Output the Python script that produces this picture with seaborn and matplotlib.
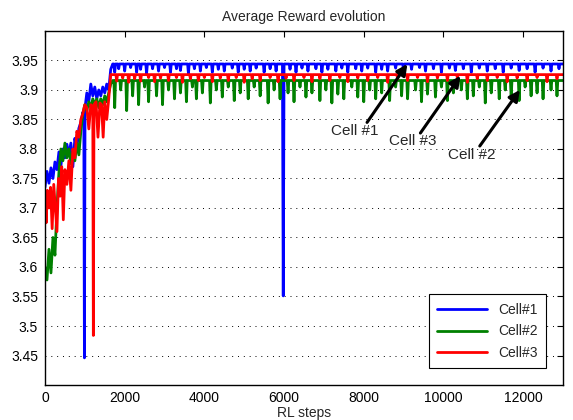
import numpy as np
import pandas as pd
import matplotlib
matplotlib.use("Agg")
import matplotlib.pyplot as plt
import seaborn as sns

# tramo inicial (0-1650 pasos)
blue_steps0 = [0, 50, 100, 150, 200, 250, 300, 350, 400, 450, 500, 550, 600, 650, 700, 750,
               800, 850, 900, 950, 975, 990, 1005, 1050, 1100, 1150, 1200, 1250, 1300, 1350,
               1400, 1450, 1500, 1550, 1600, 1650]
blue_vals0 = [3.735, 3.762, 3.742, 3.768, 3.75, 3.778, 3.765, 3.795, 3.772, 3.80, 3.785, 3.808,
              3.79, 3.81, 3.77, 3.818, 3.80, 3.835, 3.845, 3.862, 3.85, 3.446, 3.87, 3.895,
              3.88, 3.91, 3.89, 3.905, 3.885, 3.90, 3.89, 3.905, 3.895, 3.91, 3.90, 3.935]

green_steps0 = [0, 50, 100, 150, 200, 250, 300, 350, 400, 450, 500, 550, 600, 650, 700, 750,
                800, 850, 900, 950, 1000, 1050, 1100, 1150, 1200, 1250, 1300, 1350, 1400,
                1450, 1500, 1550, 1600, 1650]
green_vals0 = [3.60, 3.578, 3.63, 3.59, 3.65, 3.62, 3.70, 3.76, 3.80, 3.78, 3.81, 3.785, 3.80,
               3.775, 3.795, 3.78, 3.81, 3.79, 3.83, 3.86, 3.875, 3.865, 3.88, 3.87, 3.885,
               3.875, 3.885, 3.87, 3.885, 3.875, 3.89, 3.88, 3.895, 3.91]

red_steps0 = [0, 30, 60, 100, 140, 180, 220, 260, 300, 340, 380, 420, 460, 500, 550, 600, 650,
              700, 750, 800, 850, 900, 950, 1000, 1050, 1100, 1150, 1200, 1214, 1230, 1280,
              1330, 1380, 1420, 1460, 1500, 1550, 1600, 1650]
red_vals0 = [3.72, 3.675, 3.73, 3.70, 3.735, 3.665, 3.74, 3.70, 3.66, 3.75, 3.72, 3.77, 3.68,
             3.765, 3.74, 3.78, 3.73, 3.80, 3.785, 3.83, 3.82, 3.85, 3.86, 3.875, 3.87, 3.834,
             3.875, 3.87, 3.484, 3.875, 3.88, 3.82, 3.878, 3.875, 3.82, 3.88, 3.85, 3.885, 3.926]

# meseta: nivel base y caidas puntuales (paso, valor)
blue_base = 3.944
blue_dips = [(1750, 3.93), (1850, 3.936), (2000, 3.932), (2150, 3.938), (2300, 3.93),
             (2400, 3.935), (2550, 3.928), (2700, 3.936), (2850, 3.932), (3000, 3.938),
             (3150, 3.93), (3300, 3.936), (3400, 3.933), (3600, 3.928), (3750, 3.936),
             (3900, 3.932), (4050, 3.938), (4200, 3.93), (4350, 3.935), (4500, 3.932),
             (4700, 3.937), (4850, 3.93), (5000, 3.935), (5150, 3.932), (5300, 3.937),
             (5500, 3.93), (5650, 3.936), (5800, 3.932), (5980, 3.551), (6150, 3.935),
             (6300, 3.93), (6450, 3.937), (6600, 3.932), (6800, 3.936), (6950, 3.93),
             (7100, 3.935), (7300, 3.932), (7450, 3.937), (7600, 3.93), (7800, 3.936),
             (7950, 3.932), (8100, 3.937), (8300, 3.93), (8450, 3.935), (8600, 3.932),
             (8800, 3.937), (9000, 3.93), (9200, 3.935), (9400, 3.938), (9550, 3.932),
             (9750, 3.936), (9950, 3.93), (10150, 3.937), (10300, 3.933), (10500, 3.936),
             (10700, 3.93), (10900, 3.937), (11100, 3.932), (11300, 3.936), (11500, 3.93),
             (11700, 3.937), (11900, 3.933), (12100, 3.936), (12300, 3.93), (12500, 3.937),
             (12700, 3.932), (12900, 3.936)]

green_base = 3.916
green_dips = [(1750, 3.87), (1900, 3.90), (2050, 3.865), (2200, 3.89), (2350, 3.875),
              (2500, 3.905), (2600, 3.88), (2800, 3.89), (2950, 3.875), (3100, 3.90),
              (3250, 3.885), (3400, 3.895), (3550, 3.88), (3700, 3.905), (3800, 3.885),
              (3950, 3.895), (4150, 3.878), (4300, 3.90), (4450, 3.888), (4600, 3.905),
              (4750, 3.882), (4900, 3.895), (5100, 3.885), (5250, 3.905), (5400, 3.89),
              (5600, 3.878), (5750, 3.90), (5900, 3.885), (6100, 3.895), (6250, 3.88),
              (6400, 3.905), (6550, 3.888), (6700, 3.895), (6900, 3.882), (7050, 3.90),
              (7200, 3.878), (7350, 3.893), (7500, 3.885), (7700, 3.905), (7850, 3.888),
              (8000, 3.88), (8150, 3.90), (8300, 3.885), (8450, 3.895), (8650, 3.882),
              (8800, 3.905), (8950, 3.89), (9100, 3.885), (9300, 3.90), (9450, 3.88),
              (9600, 3.893), (9800, 3.888), (9950, 3.905), (10100, 3.882), (10250, 3.895),
              (10450, 3.90), (10600, 3.885), (10750, 3.89), (10900, 3.905), (11050, 3.878),
              (11200, 3.895), (11400, 3.885), (11550, 3.90), (11700, 3.888), (11900, 3.882),
              (12050, 3.905), (12200, 3.89), (12350, 3.895), (12500, 3.885), (12700, 3.90),
              (12850, 3.89)]

red_base = 3.926
red_dips = [(1800, 3.915), (1950, 3.92), (2100, 3.913), (2250, 3.919), (2400, 3.915),
            (2600, 3.921), (2750, 3.914), (2900, 3.92), (3100, 3.916), (3300, 3.921),
            (3450, 3.913), (3650, 3.919), (3850, 3.916), (4000, 3.921), (4200, 3.914),
            (4400, 3.92), (4600, 3.916), (4800, 3.921), (5000, 3.913), (5200, 3.919),
            (5400, 3.916), (5650, 3.921), (5850, 3.914), (6050, 3.92), (6250, 3.916),
            (6500, 3.921), (6700, 3.914), (6900, 3.919), (7150, 3.916), (7400, 3.921),
            (7600, 3.914), (7850, 3.92), (8100, 3.916), (8350, 3.921), (8600, 3.913),
            (8850, 3.919), (9100, 3.916), (9350, 3.921), (9600, 3.914), (9850, 3.92),
            (10100, 3.916), (10350, 3.921), (10600, 3.913), (10850, 3.919), (11100, 3.916),
            (11350, 3.921), (11600, 3.914), (11850, 3.92), (12100, 3.916), (12350, 3.921),
            (12600, 3.914), (12850, 3.919)]

cells = ['Cell#1', 'Cell#2', 'Cell#3']
colors = ['#0000ff', '#008000', '#ff0000']


def plateau(base, dips, start=1700, end=13000, half=20):
    s, v = [start], [base]
    for st, val in dips:
        s += [st - half, st, st + half]
        v += [base, val, base]
    s.append(end)
    v.append(base)
    return s, v


pieces = {
    'Cell#1': ((blue_steps0, blue_vals0), plateau(blue_base, blue_dips)),
    'Cell#2': ((green_steps0, green_vals0), plateau(green_base, green_dips)),
    'Cell#3': ((red_steps0, red_vals0), plateau(red_base, red_dips)),
}

frames = []
for c in cells:
    (s0, v0), (s1, v1) = pieces[c]
    frames.append(pd.DataFrame({'step': s0 + s1, 'reward': v0 + v1, 'cell': c}))
df = pd.concat(frames, ignore_index=True)

sns.set_style("white")
plt.rcParams['font.family'] = ['Liberation Sans', 'DejaVu Sans']

fig = plt.figure(figsize=(5.73, 4.2), dpi=100)
ax = fig.add_axes([0.0785, 0.0833, 0.904, 0.843])

sns.lineplot(data=df, x='step', y='reward', hue='cell', hue_order=cells,
             palette=colors, estimator=None, sort=False, lw=2, ax=ax)

ax.set_xlim(0, 13000)
ax.set_ylim(3.4, 4.0)
ax.set_xticks(range(0, 13000, 2000))
ax.set_yticks(np.round(np.arange(3.45, 3.951, 0.05), 2))
ax.set_yticklabels(['3.45', '3.5', '3.55', '3.6', '3.65', '3.7', '3.75',
                    '3.8', '3.85', '3.9', '3.95'])
ax.tick_params(direction='in', length=4, width=0.8, top=True, right=True,
               labelsize=10, colors='black')
ax.tick_params(axis='x', pad=4)
ax.tick_params(axis='y', pad=5)
ax.yaxis.grid(True, color='black', linestyle=(0, (1, 5)), lw=0.7)
ax.xaxis.grid(False)
for sp in ax.spines.values():
    sp.set_color('black')
    sp.set_linewidth(1)

ax.set_title("Average Reward evolution", fontsize=10, pad=7)
ax.set_xlabel("RL steps", fontsize=10, labelpad=1)
ax.set_ylabel("")

# flechas de anotacion
arrows = [("Cell #1", (9095, 3.944), (7764, 3.831), (8083, 3.845)),
          ("Cell #3", (10427, 3.924), (9225, 3.814), (9422, 3.827)),
          ("Cell #2", (11918, 3.900), (10703, 3.789), (10912, 3.805))]
for label, head, txt, tail in arrows:
    ax.annotate("", xy=head, xytext=tail,
                arrowprops=dict(arrowstyle='-|>', color='black', lw=2.2,
                                mutation_scale=16, shrinkA=0, shrinkB=0))
    ax.text(txt[0], txt[1], label, fontsize=11, ha='center', va='center')

leg = ax.legend(loc='lower right', fontsize=10, frameon=True, fancybox=False,
                edgecolor='black', framealpha=1, handlelength=3.6,
                borderaxespad=1.2, borderpad=0.6, labelspacing=0.55)
leg.get_frame().set_linewidth(0.8)
for line in leg.get_lines():
    line.set_linewidth(2)

fig.savefig("out.png", dpi=100)
